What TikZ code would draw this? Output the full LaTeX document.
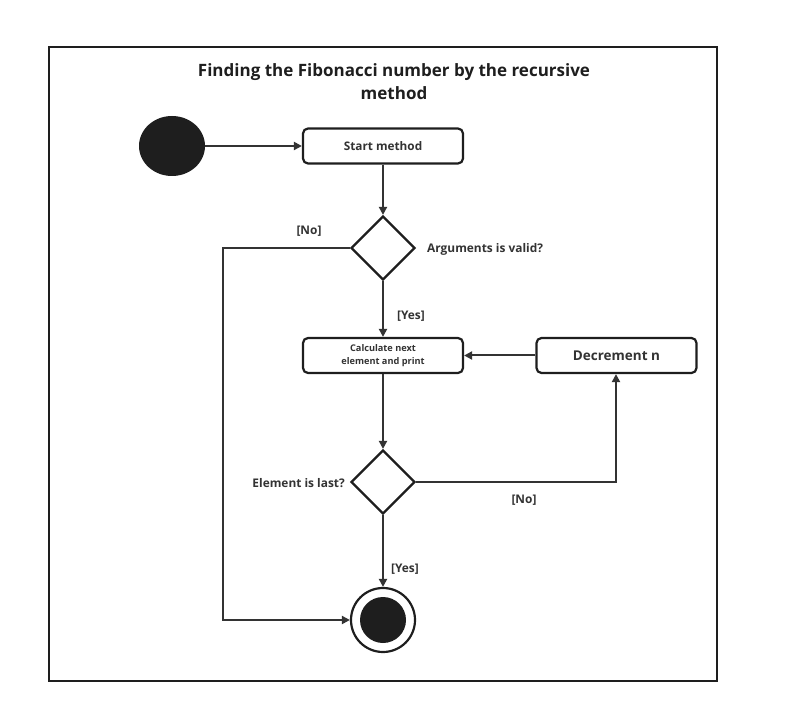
\documentclass[tikz,border=0pt]{standalone}
\usepackage{fontspec}
\setmainfont{Open Sans}
\usetikzlibrary{shapes.geometric,arrows.meta}
\definecolor{ink}{HTML}{1E1E1E}
\definecolor{wire}{HTML}{333333}
\tikzset{
  actbox/.style={draw=ink, line width=2.2pt, rounded corners=5pt, fill=white,
    minimum width=160pt, minimum height=35pt, inner sep=0pt, align=center,
    font=\fontsize{11.8}{13}\selectfont\bfseries, text=wire},
  decision/.style={draw=ink, line width=2.2pt, diamond, minimum width=64pt,
    minimum height=64pt, inner sep=0pt, fill=white},
  flow/.style={draw=wire, line width=2pt, -{Triangle[length=8pt,width=8pt]}},
  lbl/.style={font=\fontsize{11.9}{13}\selectfont\bfseries, text=wire, inner sep=0pt},
}
\begin{document}
\begin{tikzpicture}[x=1pt,y=-1pt]
\useasboundingbox (0,0) rectangle (790,727);
\draw[ink, line width=2pt] (49,47) rectangle (717,681);
\node[font=\fontsize{17}{23}\selectfont\bfseries, text=ink, align=center] (title) at (394,82)
  {Finding the Fibonacci number by the recursive\\method};
\node[ellipse, fill=ink, minimum width=66pt, minimum height=60pt, inner sep=0pt] (start) at (172,146) {};
\node[actbox] (sm) at (383,146) {Start method};
\node[decision] (d1) at (383,248) {};
\node[lbl, anchor=west] (argl) at (427,249) {Arguments is valid?};
\node[lbl] (no1) at (309,231) {[No]};
\node[actbox, font=\fontsize{9.2}{12.5}\selectfont\bfseries] (calc) at (383,355.5) {Calculate next\\element and print};
\node[actbox, font=\fontsize{13.5}{15}\selectfont\bfseries] (dec) at (616.5,355.5) {Decrement n};
\node[lbl] (yes1) at (411,316) {[Yes]};
\node[decision] (d2) at (383,482) {};
\node[lbl, anchor=east] (ell) at (345,483) {Element is last?};
\node[lbl] (no2) at (524,500) {[No]};
\node[lbl] (yes2) at (405,569) {[Yes]};
\node[circle, draw=ink, line width=2.2pt, minimum size=64pt, inner sep=0pt, fill=white] (end) at (383,620) {};
\node[circle, fill=ink, minimum size=46pt, inner sep=0pt] (endin) at (end.center) {};
\coordinate (c1) at (223,248);
\coordinate (c2) at (223,620);
\coordinate (c3) at (616,482);
\draw[flow] (start) -- (sm);
\draw[flow] (sm) -- (d1);
\draw[flow] (d1) -- (calc);
\draw[flow] (dec) -- (calc);
\draw[flow] (calc) -- (d2);
\draw[flow] (d2) -- (end);
\draw[flow] (d1.west) -- (c1) -- (c2) -- (end.west);
\draw[flow] (d2.east) -- (c3) -- (dec.south -| c3);
\end{tikzpicture}
\end{document}
